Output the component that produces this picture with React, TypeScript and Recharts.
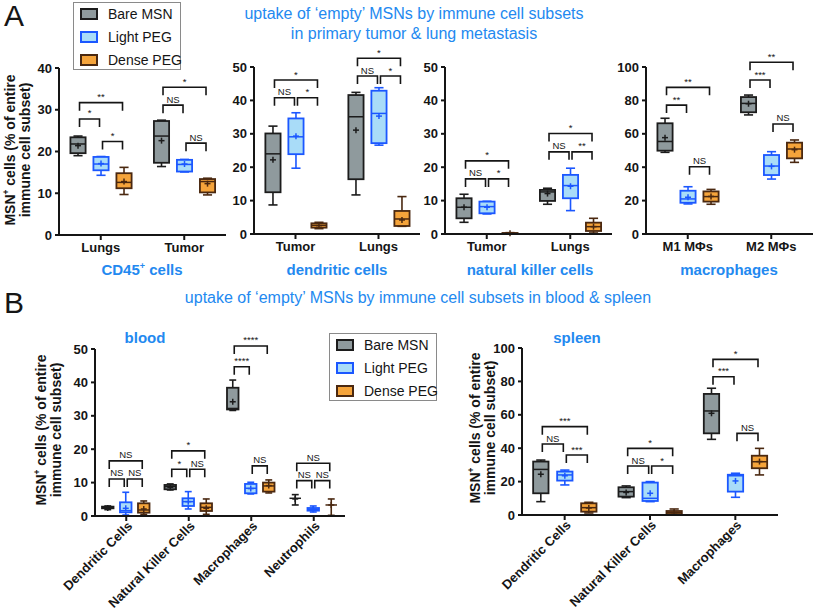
import React from "react";
import { ComposedChart, Bar, XAxis, YAxis } from "recharts";

const FONT = '"Liberation Sans", Arial, Helvetica, sans-serif';
const BLUE = "#2389f0";
const INK = "#151515";

const seriesKeys = ["bare", "light", "dense"];
const seriesNames = ["Bare MSN", "Light PEG", "Dense PEG"];
const seriesFill = ["#8f9a9d", "#a9dcf8", "#f5a43b"];
const seriesStroke = ["#1c1c1c", "#1b57ff", "#4a2810"];

// box stats: [min, q1, median, q3, max, mean]
// brackets: [fromSeries, toSeries, level, label]

// A: CD45+ cells
const cd45Groups = ["Lungs", "Tumor"];
const cd45Bare = [[19.0, 19.6, 21.8, 23.4, 23.7, 21.4], [16.4, 17.3, 23.7, 27.3, 27.5, 22.6]];
const cd45Light = [[14.3, 15.5, 17.0, 18.7, 18.8, 17.1], [15.1, 15.2, 16.9, 18.0, 18.1, 17.0]];
const cd45Dense = [[9.7, 11.2, 12.6, 14.8, 16.2, 12.8], [9.6, 10.2, 12.8, 13.4, 13.6, 12.3]];
const cd45Brackets = [
  [[0, 1, 27.8, "*"], [1, 2, 22.4, "*"], [0, 2, 31.7, "**"]],
  [[0, 1, 31.1, "NS"], [1, 2, 22.0, "NS"], [0, 2, 35.4, "*"]],
];

// A: dendritic cells
const dcGroups = ["Tumor", "Lungs"];
const dcBare = [[8.7, 12.5, 24.0, 30.1, 32.3, 22.2], [11.7, 16.4, 35.1, 41.6, 42.4, 31.1]];
const dcLight = [[19.7, 23.9, 29.1, 34.6, 36.3, 29.3], [26.6, 27.2, 36.1, 42.9, 43.8, 35.3]];
const dcDense = [[1.6, 1.9, 2.6, 3.2, 3.5, 2.5], [2.3, 2.4, 4.5, 6.9, 11.2, 4.2]];
const dcBrackets = [
  [[0, 1, 40.8, "NS"], [1, 2, 40.8, "*"], [0, 2, 46.1, "*"]],
  [[0, 1, 47.3, "NS"], [1, 2, 47.3, "*"], [0, 2, 52.6, "*"]],
];

// A: natural killer cells
const nkGroups = ["Tumor", "Lungs"];
const nkBare = [[3.5, 4.7, 8.0, 10.7, 11.9, 8.0], [8.9, 9.9, 12.6, 13.2, 13.7, 12.1]];
const nkLight = [[6.0, 6.2, 8.2, 9.7, 9.8, 8.0], [7.0, 10.7, 14.5, 17.7, 19.7, 14.3]];
const nkDense = [[0.05, 0.1, 0.2, 0.3, 0.4, 0.2], [0.3, 0.9, 2.2, 3.4, 4.7, 2.2]];
const nkBrackets = [
  [[0, 1, 16.5, "NS"], [1, 2, 16.5, "*"], [0, 2, 21.9, "*"]],
  [[0, 1, 24.6, "NS"], [1, 2, 24.6, "**"], [0, 2, 30.1, "*"]],
];

// A: macrophages
const macGroups = ["M1 MΦs", "M2 MΦs"];
const macBare = [[48.9, 49.9, 55.4, 66.3, 69.3, 57.7], [71.3, 72.9, 78.2, 82.0, 83.2, 78.0]];
const macLight = [[18.0, 18.7, 21.0, 25.9, 28.3, 22.0], [32.9, 35.3, 40.7, 47.3, 49.3, 40.5]];
const macDense = [[17.8, 19.4, 22.4, 25.5, 26.7, 22.5], [42.9, 45.3, 50.9, 54.7, 56.3, 50.5]];
const macBrackets = [
  [[0, 1, 77.2, "**"], [1, 2, 40.3, "NS"], [0, 2, 87.8, "**"]],
  [[0, 1, 92.2, "***"], [1, 2, 65.9, "NS"], [0, 2, 102.8, "**"]],
];

// B: blood
const bloodGroups = ["Dendritic Cells", "Natural Killer Cells", "Macrophages", "Neutrophils"];
const bloodBare = [
  [1.9, 2.3, 2.5, 2.8, 3.0, 2.4],
  [7.8, 8.0, 8.8, 9.3, 9.6, 8.6],
  [31.6, 31.9, 32.2, 38.4, 40.7, 34.2],
  [3.3, 5.3, 5.3, 5.3, 6.4, 5.1],
];
const bloodLight = [
  [0.3, 1.1, 1.6, 4.1, 7.1, 2.3],
  [2.1, 3.0, 4.3, 5.3, 7.3, 4.3],
  [6.6, 6.8, 8.3, 9.6, 10.1, 8.2],
  [1.2, 1.6, 2.0, 2.4, 3.0, 2.0],
];
const bloodDense = [
  [0.5, 1.0, 1.8, 3.8, 4.5, 2.1],
  [0.5, 1.5, 2.6, 3.8, 5.1, 2.3],
  [6.9, 7.3, 9.0, 10.0, 10.8, 9.1],
  [0.2, 3.3, 3.3, 3.3, 5.1, 3.3],
];
const bloodBrackets = [
  [[0, 1, 11.1, "NS"], [1, 2, 11.1, "NS"], [0, 2, 16.5, "NS"]],
  [[0, 1, 14.0, "*"], [1, 2, 14.0, "NS"], [0, 2, 19.5, "*"]],
  [[0, 1, 44.7, "****"], [1, 2, 15.0, "NS"], [0, 2, 50.9, "****"]],
  [[0, 1, 10.6, "NS"], [1, 2, 10.6, "NS"], [0, 2, 15.8, "NS"]],
];

// B: spleen
const spleenGroups = ["Dendritic Cells", "Natural Killer Cells", "Macrophages"];
const spleenBare = [
  [8.0, 13.0, 27.3, 32.0, 32.9, 24.4],
  [10.4, 11.0, 14.0, 16.6, 17.4, 13.5],
  [45.3, 48.9, 62.3, 72.5, 75.9, 60.9],
];
const spleenLight = [
  [18.0, 20.6, 24.0, 26.0, 26.9, 23.5],
  [8.0, 8.4, 10.0, 19.4, 20.0, 13.0],
  [10.6, 14.0, 23.5, 24.1, 25.0, 20.4],
];
const spleenDense = [
  [1.2, 2.0, 4.4, 7.0, 7.6, 4.2],
  [0.2, 0.5, 1.4, 2.4, 3.6, 1.4],
  [24.0, 28.0, 31.9, 35.5, 39.9, 32.0],
];
const spleenBrackets = [
  [[0, 1, 42.5, "NS"], [1, 2, 35.9, "***"], [0, 2, 52.9, "***"]],
  [[0, 1, 29.3, "NS"], [1, 2, 29.3, "*"], [0, 2, 39.9, "*"]],
  [[0, 1, 82.8, "***"], [1, 2, 48.9, "NS"], [0, 2, 93.2, "*"]],
];

function buildRows(groups: string[], bare: number[][], light: number[][], dense: number[][], brackets: any[][]) {
  return groups.map((name, i) => ({
    name,
    bare: bare[i],
    light: light[i],
    dense: dense[i],
    bareRange: [bare[i][0], bare[i][4]],
    lightRange: [light[i][0], light[i][4]],
    denseRange: [dense[i][0], dense[i][4]],
    brackets: brackets[i],
  }));
}

function makeShape(si: number, boxFrac: number) {
  return (props: any) => {
    const { x, y, width, height, payload } = props;
    const [mn, q1, md, q3, mx, mean] = payload[seriesKeys[si]];
    const span = mx - mn || 1;
    // bar spans [min, max] so the y scale is linear between y and y+height
    const py = (v: number) => y + (height * (mx - v)) / span;
    const cx = x + width / 2;
    const bw = width * boxFrac;
    const cw = bw * 0.6;
    const stroke = seriesStroke[si];
    const top = py(q3);
    const bot = py(q1);
    const my = py(mean);
    return (
      <g>
        <line x1={cx} x2={cx} y1={py(mx)} y2={top} stroke={stroke} strokeWidth={1.6} />
        <line x1={cx} x2={cx} y1={bot} y2={py(mn)} stroke={stroke} strokeWidth={1.6} />
        <line x1={cx - cw / 2} x2={cx + cw / 2} y1={py(mx)} y2={py(mx)} stroke={stroke} strokeWidth={1.6} />
        <line x1={cx - cw / 2} x2={cx + cw / 2} y1={py(mn)} y2={py(mn)} stroke={stroke} strokeWidth={1.6} />
        <rect x={cx - bw / 2} y={top} width={bw} height={Math.max(bot - top, 0)} fill={seriesFill[si]} stroke={stroke} strokeWidth={1.8} />
        <line x1={cx - bw / 2} x2={cx + bw / 2} y1={py(md)} y2={py(md)} stroke={stroke} strokeWidth={1.5} />
        <line x1={cx - 3} x2={cx + 3} y1={my} y2={my} stroke={stroke} strokeWidth={1.5} />
        <line x1={cx} x2={cx} y1={my - 3} y2={my + 3} stroke={stroke} strokeWidth={1.5} />
        {si === 0 &&
          payload.brackets.map((b: any[], j: number) => {
            const [a, c, lvl, lab] = b;
            const yy = py(lvl);
            const x1 = cx + a * width + 1.5;
            const x2 = cx + c * width - 1.5;
            return (
              <g key={j}>
                <path d={`M${x1},${yy + 8}V${yy}H${x2}V${yy + 8}`} fill="none" stroke={INK} strokeWidth={1.6} />
                <text x={(x1 + x2) / 2} y={yy - 2.5} textAnchor="middle" fontSize={9.5} fontFamily={FONT} fill={INK}>
                  {lab}
                </text>
              </g>
            );
          })}
      </g>
    );
  };
}

function SlantTick(props: any) {
  const { x, y, payload } = props;
  return (
    <g transform={`translate(${x + 4},${y})`}>
      <text x={0} y={0} dy={4} transform="rotate(-45)" textAnchor="end" fill={INK} fontSize={13} fontWeight={700} fontFamily={FONT}>
        {payload.value}
      </text>
    </g>
  );
}

const axisStyle = { stroke: INK, strokeWidth: 2 };
const tickStyle = { fill: INK, fontSize: 13, fontWeight: 700, fontFamily: FONT };

function Panel(p: any) {
  return (
    <div style={{ position: "absolute", left: p.left, top: p.top }}>
      <ComposedChart width={p.width} height={p.height} data={p.rows} margin={p.margin} barCategoryGap={p.gap} barGap={0}>
        <XAxis
          dataKey="name"
          type="category"
          height={p.xHeight}
          interval={0}
          tickSize={5}
          tickMargin={3}
          axisLine={axisStyle}
          tickLine={axisStyle}
          tick={p.slant ? <SlantTick /> : tickStyle}
        />
        <YAxis
          type="number"
          domain={[0, p.yMax]}
          ticks={p.yTicks}
          interval={0}
          width={p.yWidth}
          tickSize={4}
          tickMargin={3}
          axisLine={axisStyle}
          tickLine={axisStyle}
          tick={tickStyle}
        />
        {seriesKeys.map((k, i) => (
          <Bar key={k} dataKey={`${k}Range`} isAnimationActive={false} shape={makeShape(i, p.boxFrac)} />
        ))}
      </ComposedChart>
    </div>
  );
}

function LegendBox({ left, top }: { left: number; top: number }) {
  return (
    <div
      style={{
        position: "absolute",
        left,
        top,
        width: 108,
        height: 68,
        border: "1px solid #8a8a8a",
        boxSizing: "border-box",
        background: "#fff",
        fontFamily: FONT,
        fontSize: 14,
        color: INK,
      }}
    >
      {seriesNames.map((n, i) => (
        <div key={n} style={{ position: "absolute", left: 6, top: 1 + i * 23, height: 20, display: "flex", alignItems: "center", whiteSpace: "nowrap" }}>
          <span
            style={{
              display: "inline-block",
              width: 14,
              height: 8,
              background: seriesFill[i],
              border: `2px solid ${seriesStroke[i]}`,
            }}
          />
          <span style={{ marginLeft: 10 }}>{n}</span>
        </div>
      ))}
    </div>
  );
}

function YLabel({ cx, cy }: { cx: number; cy: number }) {
  return (
    <div
      style={{
        position: "absolute",
        left: cx,
        top: cy,
        transform: "translate(-50%, -50%) rotate(-90deg)",
        whiteSpace: "nowrap",
        textAlign: "center",
        fontFamily: FONT,
        fontWeight: 700,
        fontSize: 14,
        lineHeight: "15px",
        color: INK,
      }}
    >
      MSN<sup style={{ fontSize: "0.6em", lineHeight: 0 }}>+</sup> cells (% of entire
      <br />
      immune cell subset)
    </div>
  );
}

function BlueText({ cx, top, size, bold, children }: any) {
  return (
    <div
      style={{
        position: "absolute",
        left: cx - 250,
        top,
        width: 500,
        textAlign: "center",
        fontFamily: FONT,
        fontSize: size,
        fontWeight: bold ? 700 : 400,
        lineHeight: "20px",
        color: BLUE,
        whiteSpace: "nowrap",
      }}
    >
      {children}
    </div>
  );
}

export default function App() {
  const aCommon = { top: 40, xHeight: 30, gap: "9%", boxFrac: 0.66 };
  return (
    <div style={{ position: "absolute", left: 0, top: 0, width: 815, height: 614, background: "#fff", overflow: "hidden" }}>
      <Panel {...aCommon} left={0} width={230} height={225} margin={{ top: 28, right: 4, bottom: 0, left: 19 }} yWidth={40} yMax={40} yTicks={[0, 10, 20, 30, 40]} rows={buildRows(cd45Groups, cd45Bare, cd45Light, cd45Dense, cd45Brackets)} />
      <Panel {...aCommon} left={220} width={200} height={224} margin={{ top: 27, right: 0, bottom: 0, left: 4 }} yWidth={30} yMax={50} yTicks={[0, 10, 20, 30, 40, 50]} rows={buildRows(dcGroups, dcBare, dcLight, dcDense, dcBrackets)} />
      <Panel {...aCommon} left={410} width={205} height={224} margin={{ top: 27, right: 3, bottom: 0, left: 5 }} yWidth={30} yMax={50} yTicks={[0, 10, 20, 30, 40, 50]} rows={buildRows(nkGroups, nkBare, nkLight, nkDense, nkBrackets)} />
      <Panel {...aCommon} left={600} width={215} height={224} margin={{ top: 27, right: 2, bottom: 0, left: 6 }} yWidth={40} yMax={100} yTicks={[0, 20, 40, 60, 80, 100]} rows={buildRows(macGroups, macBare, macLight, macDense, macBrackets)} />

      <Panel left={0} top={330} width={350} height={284} margin={{ top: 19, right: 5, bottom: 0, left: 55 }} xHeight={98} gap="6%" boxFrac={0.64} slant yWidth={40} yMax={50} yTicks={[0, 10, 20, 30, 40, 50]} rows={buildRows(bloodGroups, bloodBare, bloodLight, bloodDense, bloodBrackets)} />
      <Panel left={462} top={330} width={318} height={284} margin={{ top: 18, right: 2, bottom: 0, left: 20 }} xHeight={99} gap="8%" boxFrac={0.64} slant yWidth={40} yMax={100} yTicks={[0, 20, 40, 60, 80, 100]} rows={buildRows(spleenGroups, spleenBare, spleenLight, spleenDense, spleenBrackets)} />

      <div style={{ position: "absolute", left: 4, top: 1, fontFamily: FONT, fontSize: 30, lineHeight: "30px", color: INK }}>A</div>
      <div style={{ position: "absolute", left: 4, top: 288, fontFamily: FONT, fontSize: 30, lineHeight: "30px", color: INK }}>B</div>

      <BlueText cx={414} top={4} size={16}>
        uptake of ‘empty’ MSNs by immune cell subsets
        <br />
        in primary tumor &amp; lung metastasis
      </BlueText>
      <BlueText cx={418} top={288} size={16}>
        uptake of ‘empty’ MSNs by immune cell subsets in blood &amp; spleen
      </BlueText>

      <BlueText cx={142} top={260} size={15} bold>
        CD45<sup style={{ fontSize: "0.6em", lineHeight: 0 }}>+</sup> cells
      </BlueText>
      <BlueText cx={337} top={260} size={15} bold>dendritic cells</BlueText>
      <BlueText cx={530} top={260} size={15} bold>natural killer cells</BlueText>
      <BlueText cx={729} top={260} size={15} bold>macrophages</BlueText>
      <BlueText cx={145} top={328} size={15} bold>blood</BlueText>
      <BlueText cx={577} top={328} size={15} bold>spleen</BlueText>

      <YLabel cx={18} cy={150} />
      <YLabel cx={49} cy={430} />
      <YLabel cx={483} cy={428} />

      <LegendBox left={73} top={2} />
      <LegendBox left={329} top={333} />
    </div>
  );
}
